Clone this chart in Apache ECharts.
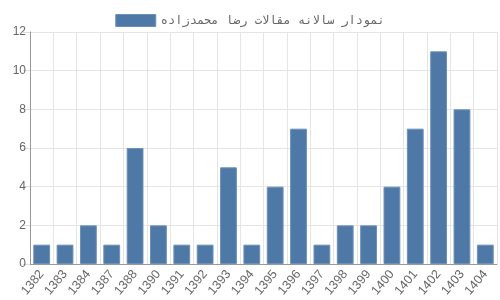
<!DOCTYPE html>
<html><head><meta charset="utf-8">
<script src="https://cdn.jsdelivr.net/npm/echarts@6/dist/echarts.min.js"></script>
<style>html,body{margin:0;padding:0;background:#fff}#c{width:500px;height:300px}</style>
</head><body><div id="c"></div>
<script>
const categories = ['1382','1383','1384','1387','1388','1390','1391','1392','1393','1394','1395','1396','1397','1398','1399','1400','1401','1402','1403','1404'];
const values = [1,1,2,1,6,2,1,1,5,1,4,7,1,2,2,4,7,11,8,1];
const seriesName = 'نمودار سالانه مقالات رضا محمدزاده';
const chart = echarts.init(document.getElementById('c'));
chart.setOption({
  animation: false,
  legend: {
    top: 9, left: 'center',
    icon: 'rect',
    itemWidth: 40, itemHeight: 12, itemGap: 6,
    itemStyle: {borderColor: '#6d90b8', borderWidth: 1},
    textStyle: {fontFamily: 'DejaVu Sans Mono', fontSize: 12, color: '#666'},
    data: [seriesName]
  },
  grid: {left: 30, right: 3, top: 32, bottom: 36, containLabel: false},
  xAxis: {
    type: 'category', data: categories,
    axisLine: {lineStyle: {color: '#999'}},
    axisTick: {length: 7, lineStyle: {color: '#ddd'}},
    splitLine: {show: true, lineStyle: {color: '#e5e5e5'}},
    axisLabel: {interval: 0, rotate: 50, color: '#666', fontFamily: 'Liberation Sans', fontSize: 12.5, margin: 8}
  },
  yAxis: {
    type: 'value', min: 0, max: 12, interval: 2,
    axisLine: {show: true, lineStyle: {color: '#999'}},
    axisTick: {show: true, length: 7, lineStyle: {color: '#ddd'}},
    splitLine: {lineStyle: {color: '#e5e5e5'}},
    axisLabel: {color: '#666', fontFamily: 'Liberation Sans', fontSize: 12, margin: 4}
  },
  series: [{
    name: seriesName, type: 'bar', data: values,
    barCategoryGap: '28%',
    itemStyle: {color: '#4e79a7', borderColor: '#6d90b8', borderWidth: 1}
  }]
});
</script></body></html>
